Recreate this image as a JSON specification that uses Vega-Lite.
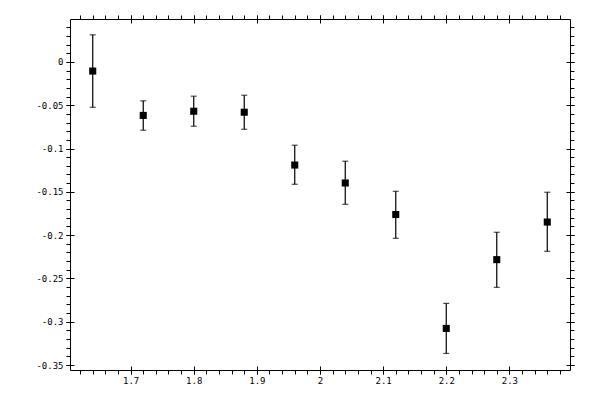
{
  "$schema": "https://vega.github.io/schema/vega-lite/v6.json",
  "width": 500,
  "height": 351,
  "autosize": {"type": "none"},
  "padding": {"left": 70, "top": 19, "right": 30, "bottom": 30},
  "background": "white",
  "config": {
    "view": {"stroke": "black", "strokeWidth": 1},
    "axis": {
      "grid": false,
      "domain": false,
      "title": null,
      "tickColor": "black",
      "tickWidth": 1,
      "labelFont": "DejaVu Sans Mono",
      "labelFontSize": 9,
      "labelColor": "black"
    }
  },
  "data": {
    "values": [
      {"x": 1.64, "y": -0.0106, "hi": 0.0312, "lo": -0.0524},
      {"x": 1.72, "y": -0.0618, "hi": -0.0450, "lo": -0.0789},
      {"x": 1.80, "y": -0.0570, "hi": -0.0396, "lo": -0.0743},
      {"x": 1.88, "y": -0.0581, "hi": -0.0385, "lo": -0.0778},
      {"x": 1.96, "y": -0.1191, "hi": -0.0962, "lo": -0.1413},
      {"x": 2.04, "y": -0.1398, "hi": -0.1147, "lo": -0.1644},
      {"x": 2.12, "y": -0.1762, "hi": -0.1494, "lo": -0.2037},
      {"x": 2.20, "y": -0.3077, "hi": -0.2788, "lo": -0.3366},
      {"x": 2.28, "y": -0.2283, "hi": -0.1967, "lo": -0.2603},
      {"x": 2.36, "y": -0.1849, "hi": -0.1505, "lo": -0.2187}
    ]
  },
  "resolve": {"axis": {"x": "independent", "y": "independent"}},
  "layer": [
    {
      "mark": {"type": "rule", "color": "black", "strokeWidth": 1.2},
      "encoding": {
        "x": {"field": "x", "type": "quantitative",
          "scale": {"domain": [1.604, 2.396], "nice": false, "zero": false},
          "axis": {"orient": "bottom", "offset": -4, "tickSize": 8, "labelPadding": 2,
            "values": [1.7, 1.8, 1.9, 2, 2.1, 2.2, 2.3], "labelExpr": "toString(datum.value)"}},
        "y": {"field": "lo", "type": "quantitative",
          "scale": {"domain": [-0.3557, 0.0495], "nice": false, "zero": false},
          "axis": {"orient": "left", "offset": -4, "tickSize": 8, "labelPadding": 3,
            "values": [0, -0.05, -0.1, -0.15, -0.2, -0.25, -0.3, -0.35], "labelExpr": "toString(datum.value)"}},
        "y2": {"field": "hi"}
      }
    },
    {
      "mark": {"type": "tick", "color": "black", "orient": "horizontal", "size": 6, "thickness": 1.2},
      "encoding": {
        "x": {"field": "x", "type": "quantitative",
          "axis": {"orient": "bottom", "tickSize": 4, "labels": false,
            "values": [1.62, 1.64, 1.66, 1.68, 1.7, 1.72, 1.74, 1.76, 1.78, 1.8, 1.82, 1.84, 1.86, 1.88, 1.9, 1.92, 1.94, 1.96, 1.98, 2, 2.02, 2.04, 2.06, 2.08, 2.1, 2.12, 2.14, 2.16, 2.18, 2.2, 2.22, 2.24, 2.26, 2.28, 2.3, 2.32, 2.34, 2.36, 2.38]}},
        "y": {"field": "lo", "type": "quantitative",
          "axis": {"orient": "left", "tickSize": 4, "labels": false,
            "values": [0.04, 0.03, 0.02, 0.01, 0, -0.01, -0.02, -0.03, -0.04, -0.05, -0.06, -0.07, -0.08, -0.09, -0.1, -0.11, -0.12, -0.13, -0.14, -0.15, -0.16, -0.17, -0.18, -0.19, -0.2, -0.21, -0.22, -0.23, -0.24, -0.25, -0.26, -0.27, -0.28, -0.29, -0.3, -0.31, -0.32, -0.33, -0.34, -0.35]}}
      }
    },
    {
      "mark": {"type": "tick", "color": "black", "orient": "horizontal", "size": 6, "thickness": 1.2},
      "encoding": {
        "x": {"field": "x", "type": "quantitative",
          "axis": {"orient": "top", "offset": -4, "tickSize": 8, "labels": false,
            "values": [1.7, 1.8, 1.9, 2, 2.1, 2.2, 2.3]}},
        "y": {"field": "hi", "type": "quantitative",
          "axis": {"orient": "right", "offset": -4, "tickSize": 8, "labels": false,
            "values": [0, -0.05, -0.1, -0.15, -0.2, -0.25, -0.3, -0.35]}}
      }
    },
    {
      "mark": {"type": "point", "shape": "square", "filled": true, "color": "black", "opacity": 1, "size": 50},
      "encoding": {
        "x": {"field": "x", "type": "quantitative",
          "axis": {"orient": "top", "tickSize": 4, "labels": false,
            "values": [1.62, 1.64, 1.66, 1.68, 1.7, 1.72, 1.74, 1.76, 1.78, 1.8, 1.82, 1.84, 1.86, 1.88, 1.9, 1.92, 1.94, 1.96, 1.98, 2, 2.02, 2.04, 2.06, 2.08, 2.1, 2.12, 2.14, 2.16, 2.18, 2.2, 2.22, 2.24, 2.26, 2.28, 2.3, 2.32, 2.34, 2.36, 2.38]}},
        "y": {"field": "y", "type": "quantitative",
          "axis": {"orient": "right", "tickSize": 4, "labels": false,
            "values": [0.04, 0.03, 0.02, 0.01, 0, -0.01, -0.02, -0.03, -0.04, -0.05, -0.06, -0.07, -0.08, -0.09, -0.1, -0.11, -0.12, -0.13, -0.14, -0.15, -0.16, -0.17, -0.18, -0.19, -0.2, -0.21, -0.22, -0.23, -0.24, -0.25, -0.26, -0.27, -0.28, -0.29, -0.3, -0.31, -0.32, -0.33, -0.34, -0.35]}}
      }
    }
  ]
}
